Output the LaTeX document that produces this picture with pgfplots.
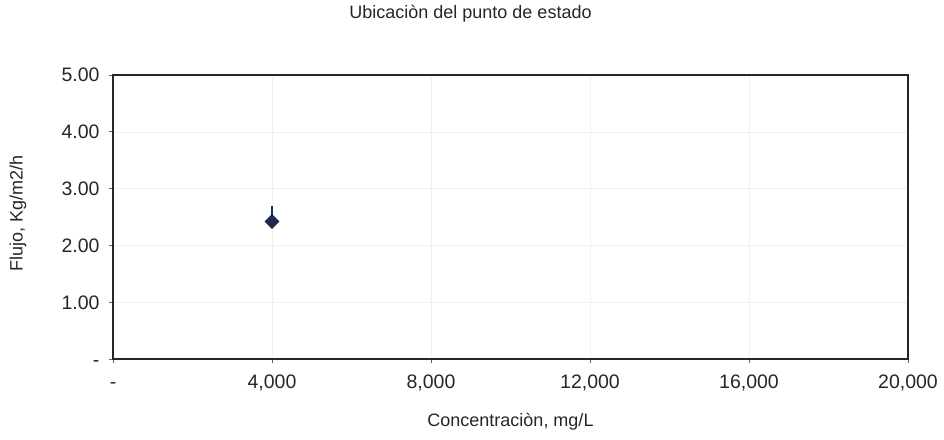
\documentclass[border=0pt]{standalone}
\usepackage{pgfplots}
\pgfplotsset{compat=1.18}
\usepackage{fontspec}
\setmainfont{Liberation Sans}
\definecolor{mk}{HTML}{1F2A4A}
\begin{document}
\begin{tikzpicture}
\useasboundingbox (-113bp,-81bp) rectangle (831bp,359bp);
\begin{axis}[
  at={(0,0)}, anchor=south west,
  scale only axis, width=795bp, height=284bp,
  clip=false,
  xmin=0, xmax=20000, ymin=0, ymax=5,
  scaled x ticks=false, scaled y ticks=false,
  xtick={0,4000,8000,12000,16000,20000},
  xticklabels={-,{4,000},{8,000},{12,000},{16,000},{20,000}},
  ytick={0,1,2,3,4,5},
  yticklabels={-,1.00,2.00,3.00,4.00,5.00},
  xtick pos=left, ytick pos=left,
  tick align=outside, major tick length=4bp,
  tick style={black!60, line width=0.6bp},
  axis line style={line width=1.6bp, black!85},
  grid=major, major grid style={black!6, line width=0.5bp},
  ticklabel style={font=\fontsize{19.5bp}{22bp}\selectfont, text=black!85},
  xticklabel style={yshift=-8bp, text height=14bp, text depth=3bp},
  yticklabel style={xshift=-6bp, text height=14bp, text depth=0bp},
]
\addplot[only marks, mark=square*, mark size=5bp, mk, mark options={fill=mk, draw=mk, rotate=45},
  error bars/.cd, y dir=plus, y explicit, error bar style={line width=1.6bp, mk}, error mark=none]
  coordinates {(4000,2.42) +- (0,0.28)};
\node[font=\fontsize{18bp}{21bp}\selectfont, text=black!85] at ([xshift=-40bp,yshift=61bp]axis description cs:0.5,1) {Ubicaciòn del punto de estado};
\node[font=\fontsize{18bp}{21bp}\selectfont, text=black!85] at ([yshift=-63bp]axis description cs:0.5,0) {Concentraciòn, mg/L};
\node[font=\fontsize{18bp}{21bp}\selectfont, text=black!85, rotate=90] at ([xshift=-95bp,yshift=4bp]axis description cs:0,0.5) {Flujo, Kg/m2/h};
\end{axis}
\end{tikzpicture}
\end{document}
